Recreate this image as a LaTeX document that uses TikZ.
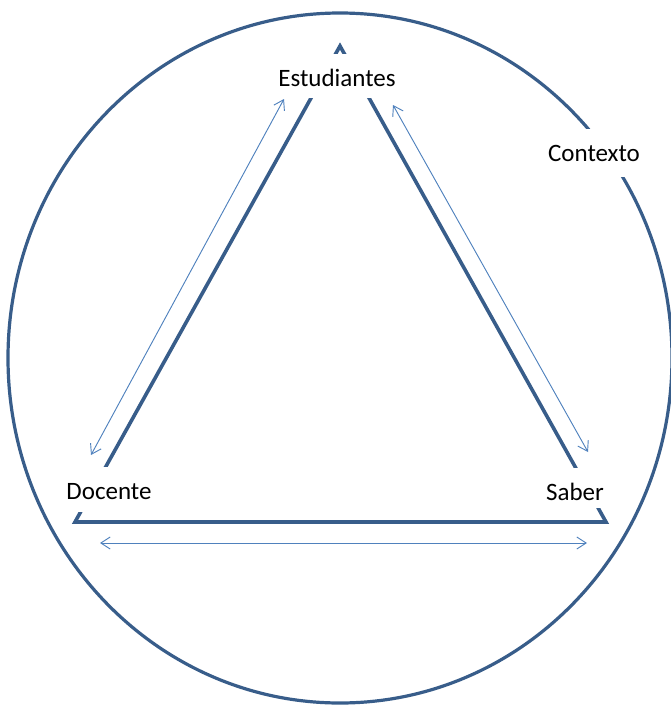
\documentclass[tikz,border=0pt]{standalone}
\usepackage{fontspec}
\setmainfont{Carlito}
\usetikzlibrary{arrows.meta,positioning}
\definecolor{ringblue}{RGB}{56,93,138}
\definecolor{arrowblue}{RGB}{79,129,189}

\begin{document}
\begin{tikzpicture}[x=0.75pt,y=-0.75pt,
  side/.style={draw=ringblue,line width=2.7pt,line join=miter},
  ring/.style={draw=ringblue,line width=2.4pt},
  link/.style={draw=arrowblue,line width=0.7pt,
    {Straight Barb[length=7pt,width=9pt]}-{Straight Barb[length=7pt,width=9pt]}},
  lbl/.style={fill=white,inner xsep=2pt,inner ysep=0pt,anchor=base,
    text height=24pt,text depth=9pt,font=\fontsize{18.75}{22}\selectfont},
]
\useasboundingbox (0,0) rectangle (671,707);

% the context
\draw[ring] (340,358) ellipse [x radius=332,y radius=345];

% the corners of the triangle
\coordinate (top) at (340,46);
\coordinate (bl) at (75,522);
\coordinate (br) at (606,522);
\draw[side] (bl) -- (top) -- (br) -- cycle;

% the ends of the arrows
\coordinate (l1) at (91,455);
\coordinate (l2) at (284,99);
\coordinate (r1) at (393,105);
\coordinate (r2) at (588,452);
\coordinate (b1) at (100,543);
\coordinate (b2) at (587,543);

% the arrows
\draw[link] (l1) -- (l2);
\draw[link] (r1) -- (r2);
\draw[link] (b1) -- (b2);

% the labels
\node[lbl] (est) at (337,86) {Estudiantes};
\node[lbl,text depth=10pt] (doc) at (109,499) {Docente};
\node[lbl,text depth=6pt] (sab) at (575,500) {Saber};
\node[lbl,text depth=12pt] (ctx) at (594,161) {Contexto};
\end{tikzpicture}
\end{document}
